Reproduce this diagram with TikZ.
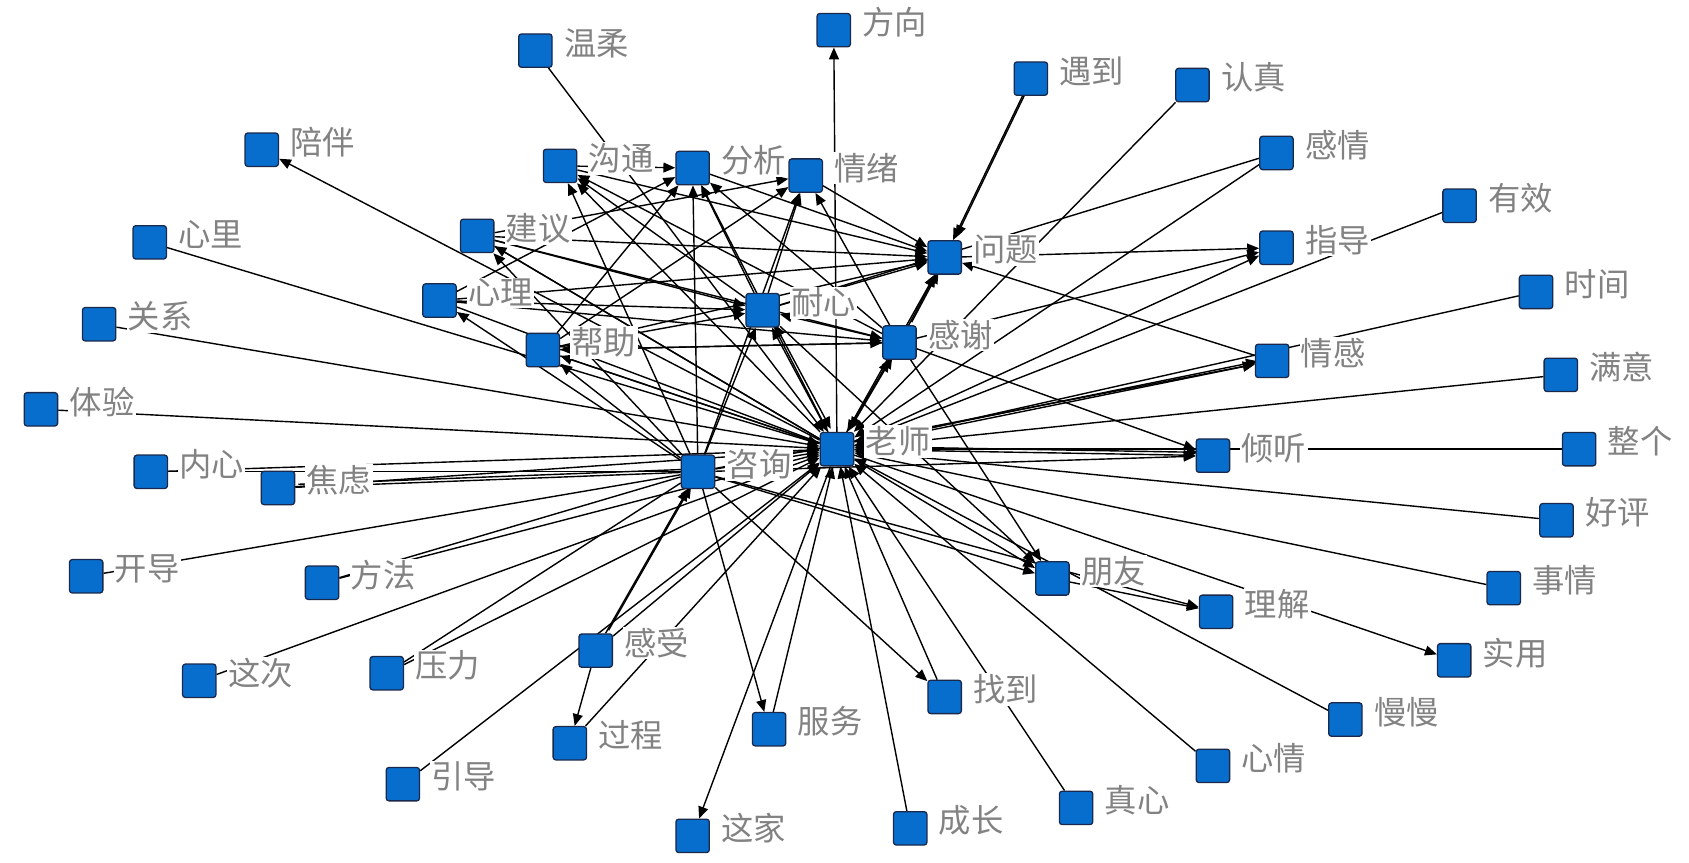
\documentclass[tikz,border=0pt]{standalone}
\usepackage{fontspec}
\newfontfamily\cjk{Noto Sans CJK SC}
\usetikzlibrary{arrows.meta,backgrounds}
\definecolor{sqblue}{RGB}{8,110,205}
\definecolor{sqborder}{RGB}{25,40,75}
\definecolor{labgray}{RGB}{130,130,130}
\tikzset{
  sq/.style={draw=sqborder, fill=sqblue, line width=0.6pt, rounded corners=1.3pt, minimum size=15.5pt, inner sep=0pt},
  lab/.style={font=\cjk\fontsize{15pt}{16pt}\selectfont, text=labgray, fill=white, inner sep=0.6pt, anchor=west},
  ln/.style={line width=0.65pt, black},
  arr/.style={ln, -{Triangle[length=5.5pt,width=4.6pt]}},
  both/.style={ln, {Triangle[length=5.5pt,width=4.6pt]}-{Triangle[length=5.5pt,width=4.6pt]}},
  dbl/.style={transform canvas={shift={(1.4pt,1.4pt)}}},
}
\newcommand\kw[4]{\node[sq] (#1) at (#2,#3) {};\node[lab, xshift=4.5pt, yshift=3.5pt] (#1-l) at (#1.east) {#4};}
\begin{document}
\begin{tikzpicture}[x=0.5pt,y=-0.5pt]
\useasboundingbox (0,0) rectangle (1568,801);
\kw{fangxiang}{774}{28}{方向}
\kw{wenrou}{497}{47}{温柔}
\kw{yudao}{957}{73}{遇到}
\kw{renzhen}{1107}{79}{认真}
\kw{peiban}{243}{139}{陪伴}
\kw{ganqing}{1185}{142}{感情}
\kw{goutong}{520}{154}{沟通}
\kw{fenxi}{643}{156}{分析}
\kw{qingxu}{748}{163}{情绪}
\kw{youxiao}{1355}{191}{有效}
\kw{xinli}{139}{225}{心里}
\kw{jianyi}{443}{219}{建议}
\kw{wenti}{877}{239}{问题}
\kw{zhidao}{1185}{230}{指导}
\kw{shijian}{1426}{271}{时间}
\kw{xinlixue}{408}{279}{心理}
\kw{naixin}{708}{288}{耐心}
\kw{guanxi}{92}{301}{关系}
\kw{bangzhu}{504}{325}{帮助}
\kw{ganxie}{835}{318}{感谢}
\kw{qinggan}{1181}{335}{情感}
\kw{manyi}{1449}{348}{满意}
\kw{tiyan}{38}{380}{体验}
\kw{laoshi}{777}{417}{老师}
\kw{qingting}{1126}{423}{倾听}
\kw{zhengge}{1466}{417}{整个}
\kw{neixin}{140}{438}{内心}
\kw{jiaolv}{258}{453}{焦虑}
\kw{zixun}{648}{438}{咨询}
\kw{haoping}{1445}{483}{好评}
\kw{kaidao}{80}{535}{开导}
\kw{fangfa}{299}{541}{方法}
\kw{pengyou}{977}{537}{朋友}
\kw{shiqing}{1396}{546}{事情}
\kw{lijie}{1129}{568}{理解}
\kw{shiyong}{1350}{613}{实用}
\kw{zheci}{185}{632}{这次}
\kw{yali}{359}{625}{压力}
\kw{ganshou}{553}{604}{感受}
\kw{zhaodao}{877}{647}{找到}
\kw{manman}{1249}{668}{慢慢}
\kw{guocheng}{529}{690}{过程}
\kw{fuwu}{714}{677}{服务}
\kw{xinqing}{1126}{711}{心情}
\kw{yindao}{374}{728}{引导}
\kw{zhenxin}{999}{750}{真心}
\kw{zhejia}{643}{776}{这家}
\kw{chengzhang}{845}{769}{成长}
\begin{scope}[on background layer]
\fill[white] (0,0) rectangle (1568,801);
% peripheral -> laoshi
\foreach \n in {xinli,guanxi,tiyan,neixin,jiaolv,fangfa,zheci,yali,yindao,ganshou,guocheng,fuwu,chengzhang,zhaodao,zhenxin,xinqing,manman,shiqing,haoping,zhengge,manyi,shijian,youxiao,ganqing,renzhen,wenrou}
  \draw[arr] (\n) -- (laoshi);
% laoshi -> peripheral
\foreach \n in {peiban,zhejia,fangxiang,shiyong,pengyou,qingting,qinggan,zhidao}
  \draw[arr] (laoshi) -- (\n);
\draw[arr,dbl] (laoshi) -- (qingting);
\draw[arr,dbl] (laoshi) -- (qinggan);
% zixun
\foreach \n in {neixin,jiaolv,kaidao,fangfa,yali}
  \draw[ln] (\n) -- (zixun);
\draw[ln,dbl] (jiaolv) -- (zixun);
\draw[arr] (ganshou) -- (zixun);
\draw[arr,dbl] (ganshou) -- (zixun);
\foreach \n in {fuwu,zhaodao,pengyou,qingting,lijie,qinggan}
  \draw[arr] (zixun) -- (\n);
% others
\draw[arr] (ganshou) -- (guocheng);
\draw[arr] (pengyou) -- (lijie);
\draw[arr] (ganxie) -- (pengyou);
\draw[arr] (naixin) -- (pengyou);
\draw[arr] (ganxie) -- (qingting);
\draw[arr] (qinggan) -- (wenti);
\draw[arr] (wenti) -- (zhidao);
\draw[arr] (ganxie) -- (zhidao);
\draw[arr] (yudao) -- (wenti);
\draw[arr,dbl] (yudao) -- (wenti);
\draw[ln] (ganqing) -- (naixin);
% cluster
\draw[arr] (zixun) -- (goutong);
\draw[arr] (laoshi) -- (goutong);
\draw[arr] (naixin) -- (goutong);
\draw[arr] (ganxie) -- (goutong);
\draw[arr] (goutong) -- (wenti);
\draw[arr] (goutong) -- (fenxi);
\draw[arr] (zixun) -- (fenxi);
\draw[arr] (laoshi) -- (fenxi);
\draw[arr] (naixin) -- (fenxi);
\draw[arr] (bangzhu) -- (fenxi);
\draw[arr] (xinlixue) -- (fenxi);
\draw[arr] (ganxie) -- (fenxi);
\draw[arr] (fenxi) -- (wenti);
\draw[arr] (naixin) -- (qingxu);
\draw[arr] (ganxie) -- (qingxu);
\draw[arr] (bangzhu) -- (qingxu);
\draw[arr] (jianyi) -- (qingxu);
\draw[arr] (zixun) -- (qingxu);
\draw[arr] (qingxu) -- (wenti);
\draw[arr] (jianyi) -- (wenti);
\draw[arr] (xinlixue) -- (wenti);
\draw[arr] (bangzhu) -- (wenti);
\draw[arr] (naixin) -- (wenti);
\draw[arr] (ganxie) -- (wenti);
\draw[arr,dbl] (ganxie) -- (wenti);
\draw[arr] (laoshi) -- (wenti);
\draw[arr] (jianyi) -- (naixin);
\draw[arr] (xinlixue) -- (naixin);
\draw[arr] (bangzhu) -- (naixin);
\draw[arr] (zixun) -- (naixin);
\draw[both] (naixin) -- (laoshi);
\draw[both,dbl] (naixin) -- (laoshi);
\draw[arr] (ganxie) -- (naixin);
\draw[arr] (zixun) -- (xinlixue);
\draw[arr] (zixun) -- (bangzhu);
\draw[arr] (laoshi) -- (bangzhu);
\draw[arr] (ganxie) -- (bangzhu);
\draw[arr] (zixun) -- (jianyi);
\draw[arr] (laoshi) -- (jianyi);
\draw[both] (ganxie) -- (laoshi);
\draw[both,dbl] (ganxie) -- (laoshi);
\draw[arr] (zixun) -- (laoshi);
\draw[arr] (jianyi) -- (ganxie);
\draw[arr] (xinlixue) -- (ganxie);
\draw[arr] (bangzhu) -- (ganxie);
\draw[ln] (xinlixue) -- (laoshi);
\draw[ln] (bangzhu) -- (laoshi);
\draw[ln] (jianyi) -- (laoshi);
\end{scope}
\end{tikzpicture}
\end{document}
